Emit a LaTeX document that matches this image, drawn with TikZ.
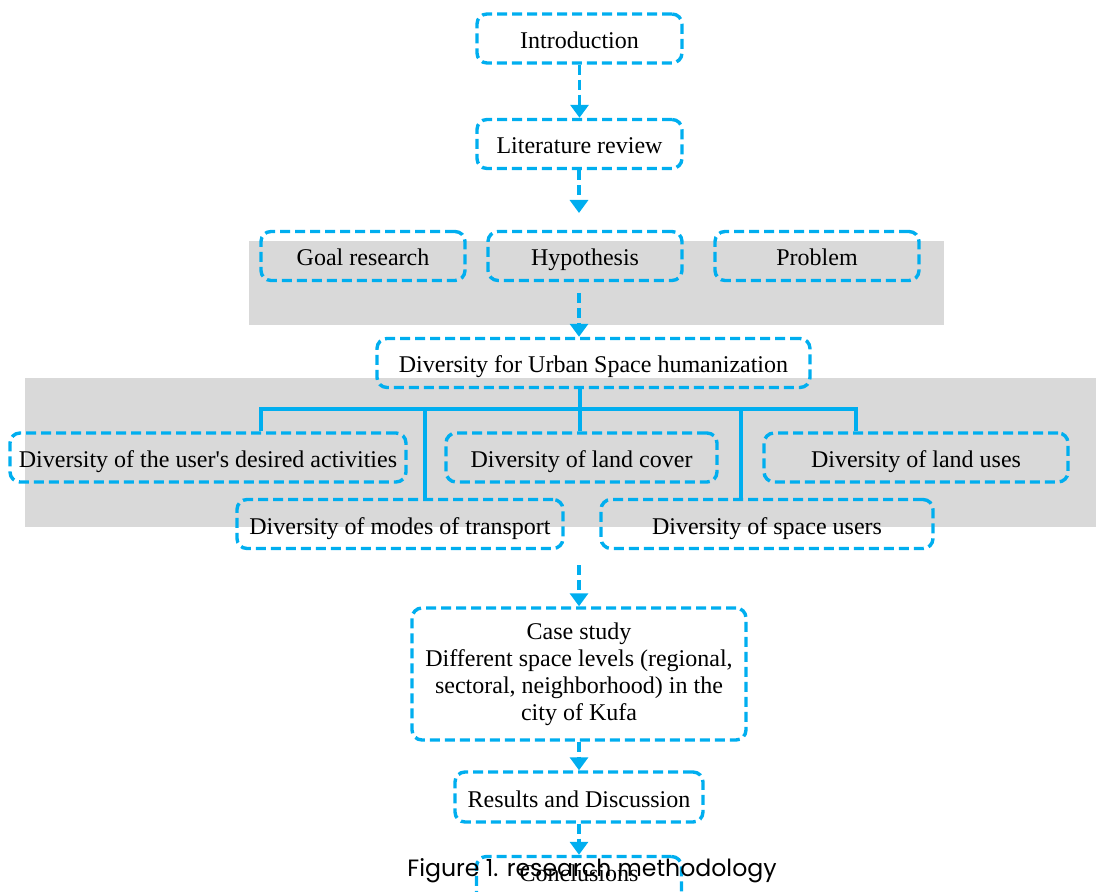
\documentclass[tikz,border=0pt]{standalone}
\usepackage{fontspec}
\setmainfont{Liberation Serif}
\newfontfamily\capfont{Poppins}
\usepackage{tikz}
\usetikzlibrary{arrows.meta}
\definecolor{rmblue}{HTML}{00AEEF}
\definecolor{rmgray}{HTML}{D9D9D9}

\begin{document}
\begin{tikzpicture}[x=0.5pt,y=-0.5pt]
        \tikzset{
        rm box/.style={draw=rmblue,line width=1.7pt,dash pattern=on 5pt off 2.5pt,rounded corners=5pt,
            inner sep=0pt,minimum height=24.5pt,align=center,text height=10.5pt,text depth=0.5pt,
            font=\fontsize{12}{13.5}\selectfont},
        rm arrow/.style={draw=rmblue,line width=1.7pt,dash pattern=on 5pt off 2.5pt,
            -{Triangle[width=9pt,length=6.5pt,fill=rmblue]}},
        rm tree/.style={draw=rmblue,line width=1.8pt}
        }
        \useasboundingbox (0,0) rectangle (1096,892);
        % gray bands
        \fill[rmgray] (249,241) rectangle (944,325);
        \fill[rmgray] (25,378) rectangle (1096,527);

        \node[rm box,minimum width=102.5pt] (intro) at (579.5,38.5) {Introduction};
        \node[rm box,minimum width=102.5pt] (lit) at (579.5,144) {Literature review};
        \node[rm box,minimum width=102pt] (goal) at (363,256) {Goal research};
        \node[rm box,minimum width=97pt] (hyp) at (585,256) {Hypothesis};
        \node[rm box,minimum width=102pt] (prob) at (817,256) {Problem};
        \node[rm box,minimum width=216.5pt] (urban) at (593.5,363) {Diversity for Urban Space humanization};
        \node[rm box,minimum width=198pt] (activ) at (208,457.5) {Diversity of the user\textquotesingle s desired activities};
        \node[rm box,minimum width=135.5pt] (cover) at (581.5,457.5) {Diversity of land cover};
        \node[rm box,minimum width=152pt] (uses) at (916,457.5) {Diversity of land uses};
        \node[rm box,minimum width=163pt] (modes) at (400,524) {Diversity of modes of transport};
        \node[rm box,minimum width=166pt] (users) at (767,524) {Diversity of space users};
        \node[rm box,minimum width=167pt,minimum height=66pt,text height=,text depth=] (case) at (579,674)
            {Case study\\Different space levels (regional,\\sectoral, neighborhood) in the\\city of Kufa};
        \node[rm box,minimum width=124pt,minimum height=25pt] (res) at (579,797) {Results and Discussion};
        \node[rm box,minimum width=102.5pt,text depth=10pt] (concl) at (579,881) {Conclusions};

        \coordinate (litend) at (579,213);
        \coordinate (hypout) at (579,293);
        \coordinate (treeout) at (579,565);
        \coordinate (hub) at (580,409);

        \draw[rm arrow] (intro.south -| lit.north) -- (lit.north);
        \draw[rm arrow] (lit.south -| litend) -- (litend);
        \draw[rm arrow] (hypout) -- (urban.north -| hypout);
        \draw[rm arrow] (treeout) -- (case.north -| treeout);
        \draw[rm arrow] (case.south) -- (res.north);
        \draw[rm arrow] (res.south) -- (concl.north);

        \draw[rm tree] (urban.south -| hub) -- (cover.north -| hub);
        \draw[rm tree] (activ.north -| 261,0) |- (hub) -| (uses.north -| 856,0);
        \draw[rm tree] (425,409) -- (modes.north -| 425,0);
        \draw[rm tree] (741,409) -- (users.north -| 741,0);

        \node[font=\capfont\fontsize{11.8}{13}\selectfont] (caption) at (592,871) {Figure 1. research methodology};
    \end{tikzpicture}
\end{document}
